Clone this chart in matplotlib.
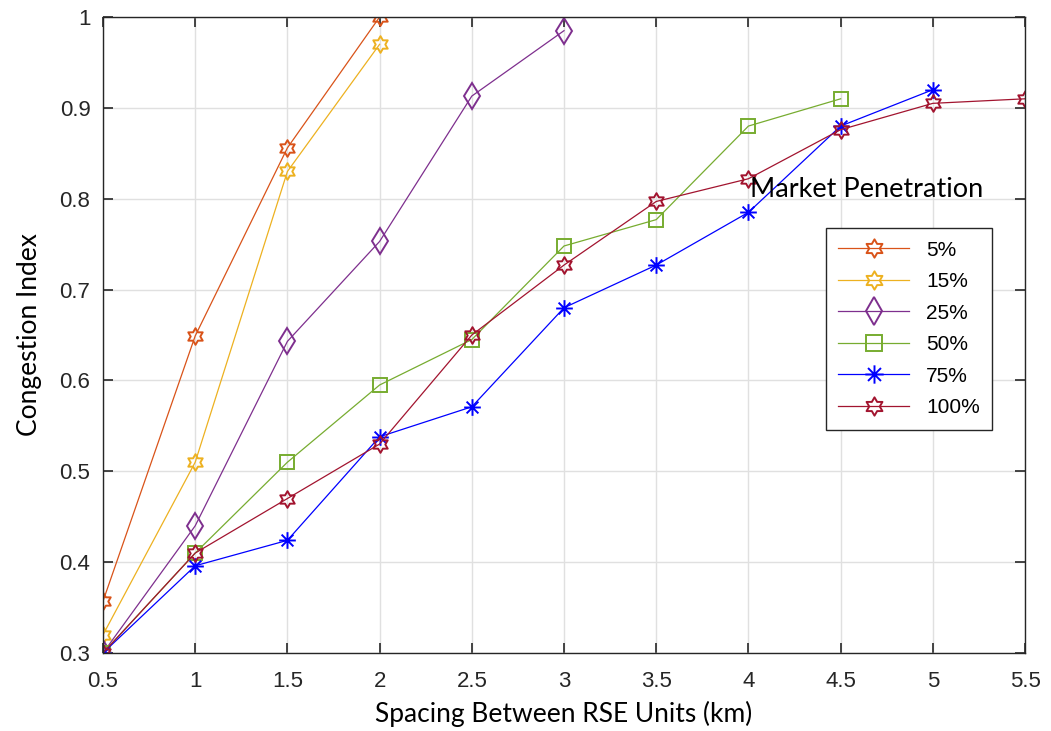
import matplotlib
matplotlib.use('Agg')
import matplotlib.pyplot as plt
import numpy as np
from matplotlib.path import Path

# data
x_all = [0.5, 1, 1.5, 2, 2.5, 3, 3.5, 4, 4.5, 5, 5.5]
ci_5 = [0.357, 0.649, 0.856, 1.0]
ci_15 = [0.32, 0.51, 0.83, 0.97]
ci_25 = [0.30, 0.44, 0.643, 0.753, 0.913, 0.985]
ci_50 = [0.30, 0.41, 0.51, 0.595, 0.645, 0.748, 0.777, 0.88, 0.91]
ci_75 = [0.30, 0.396, 0.424, 0.538, 0.571, 0.68, 0.727, 0.785, 0.88, 0.92]
ci_100 = [0.30, 0.41, 0.47, 0.53, 0.65, 0.727, 0.797, 0.822, 0.876, 0.905, 0.91]
labels = ['5%', '15%', '25%', '50%', '75%', '100%']

# MATLAB-like markers
ang = np.deg2rad(np.arange(12) * 30 + 90)
rad = np.where(np.arange(12) % 2 == 0, 1.0, 1 / np.sqrt(3))
verts = np.column_stack([rad * np.cos(ang), rad * np.sin(ang)])
hexagram = Path(np.vstack([verts, verts[:1]]), closed=True)

s = 0.7071
ast_verts = [(-1, 0), (1, 0), (0, -1), (0, 1), (-s, -s), (s, s), (-s, s), (s, -s)]
ast_codes = [Path.MOVETO, Path.LINETO] * 4
asterisk = Path(ast_verts, ast_codes)

colors = ['#D95319', '#EDB120', '#7E2F8E', '#77AC30', '#0000FF', '#A2142F']
markers = [hexagram, hexagram, 'd', 's', asterisk, hexagram]
msizes = [12, 12, 13, 10, 12, 12]
series = [ci_5, ci_15, ci_25, ci_50, ci_75, ci_100]

fig = plt.figure(figsize=(10.51, 7.31), dpi=100)
ax = fig.add_axes([0.098, 0.1067, 0.8773, 0.87])

for ys, c, m, ms, lab in zip(series, colors, markers, msizes, labels):
    ax.plot(x_all[:len(ys)], ys, color=c, lw=0.9, marker=m, ms=ms,
            mfc='none', mec=c, mew=1.4, label=lab)

ax.set_xlim(0.5, 5.5)
ax.set_ylim(0.3, 1.0)
ax.set_xticks(np.arange(0.5, 5.51, 0.5))
ax.set_xticklabels(['0.5', '1', '1.5', '2', '2.5', '3', '3.5', '4', '4.5', '5', '5.5'])
ax.set_yticks(np.arange(0.3, 1.01, 0.1))
ax.set_yticklabels(['0.3', '0.4', '0.5', '0.6', '0.7', '0.8', '0.9', '1'])
ax.tick_params(direction='in', top=True, right=True, length=7, width=1.2,
               labelsize=16, colors='#262626')
ax.tick_params(axis='x', pad=13)
ax.tick_params(axis='y', pad=9)
for t in ax.get_xticklabels() + ax.get_yticklabels():
    t.set_fontfamily('Liberation Sans')
for sp in ax.spines.values():
    sp.set_color('#262626')
    sp.set_linewidth(1.0)
ax.grid(True, color='#E0E0E0', lw=1.0)
ax.set_axisbelow(True)

ax.set_xlabel('Spacing Between RSE Units (km)', fontsize=19, fontfamily='Lato', labelpad=6)
ax.set_ylabel('Congestion Index', fontsize=19, fontfamily='Lato', labelpad=13)

ax.text(4.01, 0.81, 'Market Penetration', fontsize=19.5, fontfamily='Lato',
        va='center', ha='left')

leg = ax.legend(loc='upper left', bbox_to_anchor=(0.784, 0.668), borderaxespad=0,
                prop={'family': 'Liberation Sans', 'size': 15},
                fancybox=False, framealpha=1, edgecolor='#262626',
                handlelength=3.4, borderpad=0.6, labelspacing=0.6, markerscale=1.1)
leg.get_frame().set_linewidth(1.0)

fig.savefig('out.png', dpi=100)
plt.close(fig)
